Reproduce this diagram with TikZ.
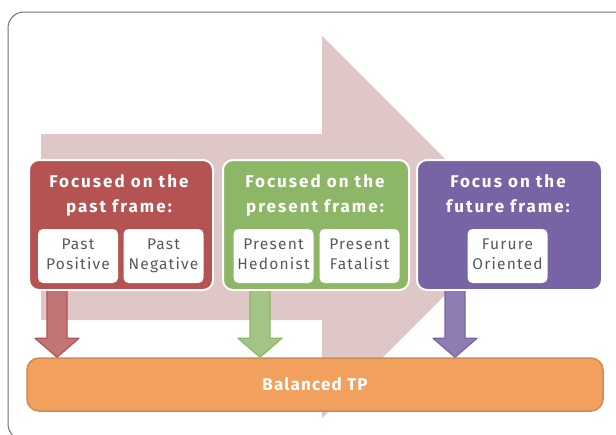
\documentclass[tikz,border=0pt]{standalone}
\usepackage{fontspec}
\setmainfont{Fira Sans}
\usepackage{xcolor}
\usetikzlibrary{positioning, calc}

\definecolor{bgarrow}{HTML}{DFC6C7}
\definecolor{dkpast}{HTML}{B55353}
\definecolor{ltpast}{HTML}{C27575}
\definecolor{dkpres}{HTML}{8DB766}
\definecolor{ltpres}{HTML}{A2C585}
\definecolor{dkfut}{HTML}{7863A4}
\definecolor{ltfut}{HTML}{8E7CB3}
\definecolor{balfill}{HTML}{F2A05E}
\definecolor{baledge}{HTML}{D08A52}
\definecolor{labgray}{HTML}{595959}
\definecolor{framegray}{HTML}{707070}

\begin{document}
\begin{tikzpicture}[x=1pt, y=-1pt,
    frame/.style={draw=white, line width=2pt, rounded corners=10pt, minimum height=130pt},
    title/.style={text=white, align=center, inner sep=0pt, anchor=north,
        font=\fontsize{17}{25}\selectfont\bfseries\addfontfeature{LetterSpace=12}},
    item/.style={fill=white, rounded corners=5pt, minimum width=80pt, minimum height=54pt,
        inner sep=0pt, align=center, text=labgray,
        execute at begin node={\rule{0pt}{17pt}}, execute at end node={\vphantom{g}},
        font=\fontsize{15.5}{20}\selectfont\addfontfeature{LetterSpace=8}}]
    \useasboundingbox (0,0) rectangle (616,434);
    \draw[framegray, line width=1pt, rounded corners=16pt] (8,12) rectangle (630,440);

    % big arrow in the back
    \fill[bgarrow] (41,134) -- (322,134) -- (322,36) -- (513,227) -- (322,418)
        -- (322,320) -- (41,320) -- cycle;

    \node[frame, fill=dkpast, minimum width=184pt] (past) at (121,225) {};
    \node[frame, fill=dkpres, minimum width=186pt] (pres) at (316,225) {};
    \node[frame, fill=dkfut, minimum width=185pt] (fut) at (509.5,225) {};

    \node[title] (pasttitle) at (119,174) {Focused on the\\past frame:};
    \node[title] (prestitle) at (315,174) {Focused on the\\present frame:};
    \node[title] (futtitle) at (508,174) {Focus on the\\future frame:};

    \node[item] (pastpos) at (78,256) {Past\\Positive};
    \node[item] (pastneg) at (163.5,256) {Past\\Negative};
    \node[item] (preshed) at (273.5,256) {Present\\Hedonist};
    \node[item] (presfat) at (359.5,256) {Present\\Fatalist};
    \node[item] (futor) at (507.5,256) {Furure\\Oriented};

    \node[draw=baledge, fill=balfill, line width=1.5pt, rounded corners=12pt,
        minimum width=576pt, minimum height=53pt, text=white,
        font=\fontsize{17}{20}\selectfont\bfseries\addfontfeature{LetterSpace=7}]
        (bal) at (315,384.5) {Balanced TP};

    % arrows down to the bar
    \foreach \c/\x in {past/57, pres/260, fut/455} {
        \coordinate (out\c) at (\x,291);
        \coordinate (tip\c) at (out\c |- bal.north);
        \draw[draw=dk\c, fill=lt\c, line width=1.2pt, line join=round]
            ($(out\c)+(-10,0)$) -- ($(tip\c)+(-10,-19)$) -- ($(tip\c)+(-22,-19)$)
            -- (tip\c) -- ($(tip\c)+(22,-19)$) -- ($(tip\c)+(10,-19)$)
            -- ($(out\c)+(10,0)$);
    }
\end{tikzpicture}
\end{document}
